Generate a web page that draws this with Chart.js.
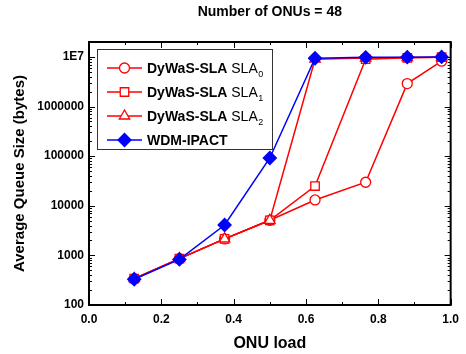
<!DOCTYPE html>
<html>
<head>
<meta charset="utf-8">
<script src="https://cdn.jsdelivr.net/npm/chart.js@4.4.1/dist/chart.umd.min.js"></script>
<style>
  html, body { margin: 0; padding: 0; background: #fff; }
  canvas { display: block; }
</style>
</head>
<body>
<canvas id="chart" width="466" height="354"></canvas>
<script>
// ONU load on x, average queue size (bytes) on y
const onuLoad = [0.125, 0.25, 0.375, 0.5, 0.625, 0.765, 0.88, 0.975];
const sla0Queue = [340, 860, 2150, 5100, 13100, 29800, 2900000, 8200000];
const sla1Queue = [340, 860, 2150, 5100, 25000, 9000000, 9600000, 9900000];
const sla2Queue = [340, 860, 2150, 5100, 9000000, 9500000, 9700000, 9900000];
const ipactQueue = [330, 830, 4100, 92000, 9400000, 9800000, 9900000, 10000000];

const xTickValues = [0, 0.2, 0.4, 0.6, 0.8, 1.0];
const yTickValues = [100, 1000, 10000, 100000, 1000000, 10000000];

const legendBold = ['DyWaS-SLA', 'DyWaS-SLA', 'DyWaS-SLA', 'WDM-IPACT'];
const legendPlain = ['SLA', 'SLA', 'SLA', ''];
const legendSub = ['0', '1', '2', ''];

const chartTitle = 'Number of ONUs = 48';

const RED = '#ff0000';
const BLUE = '#0000ff';
const FONT = '"Liberation Sans", Arial, Helvetica, sans-serif';

const toPoints = (ys) => ys.map((y, i) => ({ x: onuLoad[i], y: y }));

const datasets = [
  {
    data: toPoints(sla0Queue), borderColor: RED, backgroundColor: '#fff',
    pointStyle: 'circle', pointRadius: 5, order: 3
  },
  {
    data: toPoints(sla1Queue), borderColor: RED, backgroundColor: '#fff',
    pointStyle: 'rect', pointRadius: 6, order: 2
  },
  {
    data: toPoints(sla2Queue), borderColor: RED, backgroundColor: '#fff',
    pointStyle: 'triangle', pointRadius: 6, order: 1
  },
  {
    data: toPoints(ipactQueue), borderColor: BLUE, backgroundColor: BLUE,
    pointStyle: 'rectRot', pointRadius: 6.5, order: 0
  }
].map(ds => Object.assign(ds, {
  borderWidth: 1.5,
  pointBorderWidth: 1.3,
  pointBackgroundColor: ds.backgroundColor,
  pointBorderColor: ds.borderColor,
  tension: 0,
  fill: false
}));

// frame, inward ticks, title and the legend box
const decorPlugin = {
  id: 'decor',
  afterDraw(chart) {
    const ctx = chart.ctx;
    const area = chart.chartArea;
    const xs = chart.scales.x;
    const ys = chart.scales.y;
    ctx.save();

    ctx.strokeStyle = '#000';
    ctx.lineWidth = 1;
    ctx.beginPath();
    // x ticks, bottom and top
    for (let i = 0; i <= 10; i++) {
      const px = Math.round(xs.getPixelForValue(i / 10)) + 0.5;
      const len = i % 2 === 0 ? 6 : 3;
      ctx.moveTo(px, area.bottom); ctx.lineTo(px, area.bottom - len);
      ctx.moveTo(px, area.top); ctx.lineTo(px, area.top + len);
    }
    // y ticks, left and right
    for (let d = 100; d <= 10000000; d *= 10) {
      for (let m = 1; m <= 9; m++) {
        const v = d * m;
        if (v > ys.max) break;
        const py = Math.round(ys.getPixelForValue(v)) + 0.5;
        const len = m === 1 ? 6 : 3;
        ctx.moveTo(area.left, py); ctx.lineTo(area.left + len, py);
        ctx.moveTo(area.right, py); ctx.lineTo(area.right - len, py);
      }
    }
    ctx.stroke();

    ctx.lineWidth = 2;
    ctx.strokeRect(area.left, area.top, area.right - area.left, area.bottom - area.top);

    // title over the plot
    ctx.fillStyle = '#000';
    ctx.font = 'bold 14px ' + FONT;
    ctx.textAlign = 'center';
    ctx.textBaseline = 'middle';
    ctx.fillText(chartTitle, (area.left + area.right) / 2, 12);

    // legend
    const boxL = 97, boxT = 49, boxR = 272, boxB = 149;
    ctx.fillStyle = '#fff';
    ctx.fillRect(boxL, boxT, boxR - boxL, boxB - boxT);
    ctx.lineWidth = 1;
    ctx.strokeStyle = '#333';
    ctx.strokeRect(boxL + 0.5, boxT + 0.5, boxR - boxL, boxB - boxT);

    const rows = [68, 92, 116, 140];
    chart.data.datasets.forEach((ds, i) => {
      const y = rows[i];
      ctx.strokeStyle = ds.borderColor;
      ctx.lineWidth = 1.5;
      ctx.beginPath();
      ctx.moveTo(107, y); ctx.lineTo(142, y);
      ctx.stroke();
      ctx.fillStyle = ds.pointBackgroundColor;
      ctx.lineWidth = ds.pointBorderWidth;
      Chart.helpers.drawPoint(ctx, {
        pointStyle: ds.pointStyle, radius: ds.pointRadius, rotation: 0,
        borderWidth: ds.pointBorderWidth
      }, 124.5, y);

      ctx.fillStyle = '#000';
      ctx.textAlign = 'left';
      ctx.textBaseline = 'middle';
      let tx = 147;
      ctx.font = 'bold 14px ' + FONT;
      ctx.fillText(legendBold[i], tx, y + 1);
      tx += ctx.measureText(legendBold[i] + ' ').width;
      if (legendPlain[i]) {
        ctx.font = '14px ' + FONT;
        ctx.fillText(legendPlain[i], tx, y + 1);
        tx += ctx.measureText(legendPlain[i]).width;
        ctx.font = '9px ' + FONT;
        ctx.fillText(legendSub[i], tx + 0.5, y + 7);
      }
    });
    ctx.restore();
  }
};

new Chart(document.getElementById('chart'), {
  type: 'line',
  data: { datasets: datasets },
  options: {
    responsive: false,
    animation: false,
    layout: { padding: { top: 42, right: 15, left: 0, bottom: 0 } },
    plugins: {
      legend: { display: false },
      title: { display: false },
      tooltip: { enabled: false }
    },
    scales: {
      x: {
        type: 'linear',
        min: 0,
        max: 1,
        grid: { display: false, drawTicks: false },
        border: { display: false },
        afterBuildTicks: (scale) => { scale.ticks = xTickValues.map(v => ({ value: v })); },
        afterFit: (scale) => { scale.height = 49; },
        ticks: {
          padding: 7,
          color: '#000',
          font: { family: FONT, size: 12, weight: 'bold' },
          callback: (v) => Number(v).toFixed(1)
        },
        title: {
          display: true,
          text: 'ONU load',
          color: '#000',
          font: { family: FONT, size: 16, weight: 'bold' },
          padding: { top: 0, bottom: 1 }
        }
      },
      y: {
        type: 'logarithmic',
        min: 100,
        max: 20000000,
        grid: { display: false, drawTicks: false },
        border: { display: false },
        afterBuildTicks: (scale) => { scale.ticks = yTickValues.map(v => ({ value: v })); },
        afterFit: (scale) => { scale.width = 89; },
        ticks: {
          padding: 5,
          color: '#000',
          font: { family: FONT, size: 12, weight: 'bold' },
          callback: (v) => (v === 10000000 ? '1E7' : String(v))
        },
        title: {
          display: true,
          text: 'Average Queue Size (bytes)',
          color: '#000',
          font: { family: FONT, size: 15, weight: 'bold' },
          padding: { top: 11, bottom: 0 }
        }
      }
    }
  },
  plugins: [decorPlugin]
});
</script>
</body>
</html>
